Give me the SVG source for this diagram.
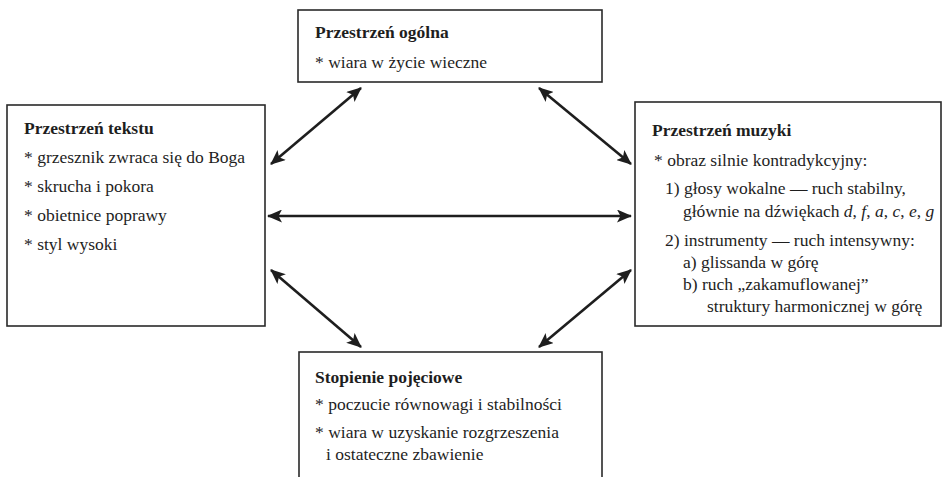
<svg xmlns="http://www.w3.org/2000/svg" width="943" height="477" viewBox="0 0 943 477">
<defs>
<marker id="ah" viewBox="0 0 15 13" refX="14" refY="6.5" markerWidth="15" markerHeight="13" markerUnits="userSpaceOnUse" orient="auto-start-reverse">
<path d="M0,0 L15,6.5 L0,13 L3.5,6.5 Z" fill="#1e1e1e"/>
</marker>
</defs>
<rect width="943" height="477" fill="#fff"/>
<g id="connectors" fill="none" stroke="#1e1e1e" stroke-width="2.6">
<line x1="271" y1="164" x2="361" y2="88" marker-start="url(#ah)" marker-end="url(#ah)"/>
<line x1="539" y1="88" x2="631" y2="164" marker-start="url(#ah)" marker-end="url(#ah)"/>
<line x1="268" y1="216" x2="631" y2="216" marker-start="url(#ah)" marker-end="url(#ah)"/>
<line x1="271" y1="270" x2="361" y2="347" marker-start="url(#ah)" marker-end="url(#ah)"/>
<line x1="631" y1="270" x2="539" y2="347" marker-start="url(#ah)" marker-end="url(#ah)"/>
</g>
<g id="node-ogolna">
<rect x="298" y="10" width="304" height="72" fill="#fff" stroke="#2a2a2a" stroke-width="1.6"/>
<text x="315" y="38" style="font-family:Liberation Serif,serif;font-size:17.5px;font-weight:bold;fill:#1e1e1e">Przestrzeń ogólna</text>
<text x="315" y="68" style="font-family:Liberation Serif,serif;font-size:17.5px;fill:#1e1e1e">* wiara w życie wieczne</text>
</g>
<g id="node-tekstu">
<rect x="7" y="105" width="258" height="221" fill="#fff" stroke="#2a2a2a" stroke-width="1.6"/>
<text x="24" y="134" style="font-family:Liberation Serif,serif;font-size:17.5px;font-weight:bold;fill:#1e1e1e">Przestrzeń tekstu</text>
<text x="24" y="163" style="font-family:Liberation Serif,serif;font-size:17.5px;fill:#1e1e1e">* grzesznik zwraca się do Boga</text>
<text x="24" y="192" style="font-family:Liberation Serif,serif;font-size:17.5px;fill:#1e1e1e">* skrucha i pokora</text>
<text x="24" y="221" style="font-family:Liberation Serif,serif;font-size:17.5px;fill:#1e1e1e">* obietnice poprawy</text>
<text x="24" y="250" style="font-family:Liberation Serif,serif;font-size:17.5px;fill:#1e1e1e">* styl wysoki</text>
</g>
<g id="node-muzyki">
<rect x="635" y="102" width="306" height="224" fill="#fff" stroke="#2a2a2a" stroke-width="1.6"/>
<text x="652" y="136" style="font-family:Liberation Serif,serif;font-size:17.5px;font-weight:bold;fill:#1e1e1e">Przestrzeń muzyki</text>
<text x="654" y="166" style="font-family:Liberation Serif,serif;font-size:17.5px;fill:#1e1e1e">* obraz silnie kontradykcyjny:</text>
<text x="665" y="194" style="font-family:Liberation Serif,serif;font-size:17.5px;fill:#1e1e1e">1) głosy wokalne — ruch stabilny,</text>
<text x="683" y="217" style="font-family:Liberation Serif,serif;font-size:17.5px;fill:#1e1e1e">głównie na dźwiękach <tspan style="font-style:italic">d</tspan>, <tspan style="font-style:italic">f</tspan>, <tspan style="font-style:italic">a</tspan>, <tspan style="font-style:italic">c</tspan>, <tspan style="font-style:italic">e</tspan>, <tspan style="font-style:italic">g</tspan></text>
<text x="665" y="246" style="font-family:Liberation Serif,serif;font-size:17.5px;fill:#1e1e1e">2) instrumenty — ruch intensywny:</text>
<text x="683" y="268" style="font-family:Liberation Serif,serif;font-size:17.5px;fill:#1e1e1e">a) glissanda w górę</text>
<text x="683" y="290" style="font-family:Liberation Serif,serif;font-size:17.5px;fill:#1e1e1e">b) ruch „zakamuflowanej”</text>
<text x="707" y="312" style="font-family:Liberation Serif,serif;font-size:17.5px;fill:#1e1e1e">struktury harmonicznej w górę</text>
</g>
<g id="node-stopienie">
<rect x="299" y="352" width="303" height="140" fill="#fff" stroke="#2a2a2a" stroke-width="1.6"/>
<text x="315" y="383" style="font-family:Liberation Serif,serif;font-size:17.5px;font-weight:bold;fill:#1e1e1e">Stopienie pojęciowe</text>
<text x="315" y="410" style="font-family:Liberation Serif,serif;font-size:17.5px;fill:#1e1e1e">* poczucie równowagi i stabilności</text>
<text x="315" y="438" style="font-family:Liberation Serif,serif;font-size:17.5px;fill:#1e1e1e">* wiara w uzyskanie rozgrzeszenia</text>
<text x="326" y="460" style="font-family:Liberation Serif,serif;font-size:17.5px;fill:#1e1e1e">i ostateczne zbawienie</text>
</g>
</svg>
